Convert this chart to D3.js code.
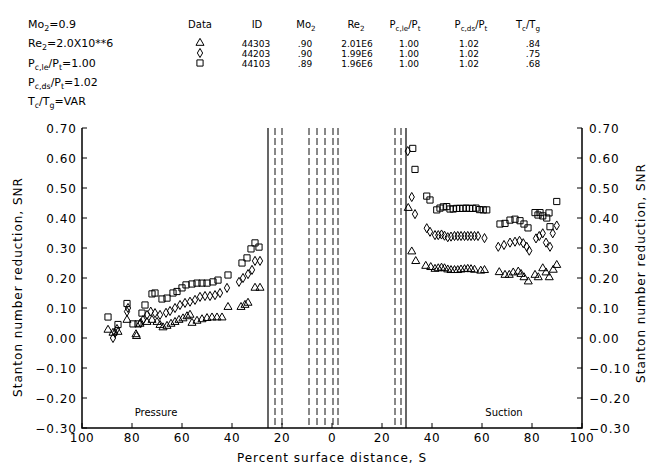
<!DOCTYPE html>
<html lang="en">
<head>
<meta charset="utf-8">
<script src="https://d3js.org/d3.v7.min.js"></script>
<style>
  body { margin: 0; background: #fff; }
  svg { font-family: "DejaVu Sans", sans-serif; fill: #000; }
  .axis-line { stroke: #000; stroke-width: 1.5; fill: none; }
  .tick-line { stroke: #000; stroke-width: 1; }
  .ytick { font-size: 12px; letter-spacing: 1px; }
  .xtick { font-size: 12px; letter-spacing: 0.5px; }
  .title { font-size: 12px; letter-spacing: 1px; }
  .gap-solid { stroke: #000; stroke-width: 1.2; }
  .gap-dash { stroke: #111; stroke-width: 1; stroke-dasharray: 7,3; }
  .mark { fill: none; stroke: #000; stroke-width: 1; }
</style>
</head>
<body>
<svg id="chart" width="653" height="475"></svg>
<script>
// ---- data ----
var paramLines = [
  [["Mo"], ["2", "sub"], ["=0.9"]],
  [["Re"], ["2", "sub"], ["=2.0X10**6"]],
  [["P"], ["c,le", "sub"], ["/P"], ["t", "sub"], ["=1.00"]],
  [["P"], ["c,ds", "sub"], ["/P"], ["t", "sub"], ["=1.02"]],
  [["T"], ["c", "sub"], ["/T"], ["g", "sub"], ["=VAR"]]
];

var tableHead = [
  [["Data"]], [["ID"]], [["Mo"], ["2", "sub"]], [["Re"], ["2", "sub"]],
  [["P"], ["c,le", "sub"], ["/P"], ["t", "sub"]],
  [["P"], ["c,ds", "sub"], ["/P"], ["t", "sub"]],
  [["T"], ["c", "sub"], ["/T"], ["g", "sub"]]
];
var runSymbols = ["triangle", "diamond", "square"];
var runIds = ["44303", "44203", "44103"];
var runMo = [".90", ".90", ".89"];
var runRe = ["2.01E6", "1.99E6", "1.96E6"];
var runPle = ["1.00", "1.00", "1.00"];
var runPds = ["1.02", "1.02", "1.02"];
var runTr = [".84", ".75", ".68"];

var yTicks = [-0.3, -0.2, -0.1, 0, 0.1, 0.2, 0.3, 0.4, 0.5, 0.6, 0.7];
var xTicks = [-100, -80, -60, -40, -20, 0, 20, 40, 60, 80, 100];

// film hole rows near the leading edge (signed S, pressure side negative)
var solidLines = [-25.6, 29.6];
var dashedLines = [-22.8, -20, -9.2, -6, -2.8, 0.4, 2.4, 25.2, 27.6];

// pressure side: [S, SNR]
var pressTri = [[89.6,0.027],[87.6,0.017],[85.6,0.02],[82,0.06],[78.4,0.012],[78.2,0.006],
  [76.8,0.047],[74,0.053],[72,0.06],[70,0.053],[68.8,0.043],[67.6,0.035],[66,0.04],[64.4,0.047],
  [62.8,0.053],[61.2,0.06],[59.6,0.065],[58,0.072],[56.8,0.077],[56,0.05],[54,0.057],[52,0.062],
  [50,0.066],[48,0.068],[46,0.068],[44,0.068],[41.6,0.103],[36.4,0.103],[34.8,0.11],[33.6,0.117],
  [30.8,0.167],[28.8,0.167]];
var pressDia = [[87.6,0.0],[86.8,0.017],[86,0.03],[82,0.088],[81.6,0.1],[76.5,0.05],[75.6,0.06],
  [74,0.077],[72.5,0.088],[70.8,0.083],[68.8,0.077],[66.4,0.084],[64.8,0.09],[62.8,0.1],[60.8,0.11],
  [58.8,0.117],[56.8,0.121],[54.8,0.127],[52.8,0.137],[50.8,0.14],[48.8,0.14],[46.8,0.143],
  [44.8,0.15],[42,0.167],[37.2,0.187],[35.6,0.2],[33.6,0.213],[32,0.227],[30.8,0.257],[28.8,0.257]];
var pressSq = [[89.6,0.07],[85.6,0.045],[82,0.115],[79.6,0.047],[77.6,0.047],[76,0.083],[74.8,0.11],
  [72,0.147],[70.8,0.15],[68,0.13],[66,0.133],[63.6,0.15],[62,0.155],[60,0.167],[58.4,0.177],
  [56,0.18],[54,0.183],[52,0.183],[50,0.183],[47.6,0.187],[45.6,0.193],[41.6,0.21],[36,0.25],
  [34,0.267],[32.4,0.297],[30.8,0.317],[29.2,0.303]];

// suction side: [S, SNR]
var suctTri = [[30.5,0.433],[31.9,0.288],[33.5,0.256],[37.5,0.24],[39.5,0.236],[41.2,0.23],
  [42.5,0.232],[43.8,0.234],[45,0.232],[46.3,0.228],[47.6,0.226],[49,0.226],[50.3,0.226],
  [51.6,0.228],[53,0.229],[54.3,0.23],[55.6,0.229],[57,0.227],[59.5,0.224],[61,0.226],
  [66.9,0.219],[69.2,0.21],[70.9,0.21],[72.5,0.218],[74.5,0.221],[75.6,0.213],[76.8,0.202],
  [78.5,0.188],[81.2,0.21],[82.5,0.202],[84.3,0.232],[85.6,0.218],[86.9,0.202],[88.5,0.227],
  [89.9,0.243]];
var suctDia = [[30.3,0.623],[31.9,0.47],[33.2,0.413],[37.9,0.366],[39.2,0.354],[41.2,0.343],
  [42.5,0.343],[43.8,0.345],[45,0.341],[46.3,0.336],[47.6,0.338],[49,0.34],[50.3,0.34],
  [51.6,0.34],[53,0.34],[54.3,0.34],[55.6,0.34],[57,0.34],[58.4,0.34],[61,0.333],
  [66.5,0.304],[68.8,0.31],[71.2,0.318],[73.2,0.321],[75,0.324],[76.5,0.316],[77.9,0.304],
  [78.9,0.291],[81.6,0.332],[82.9,0.34],[84.3,0.349],[85.6,0.318],[87.2,0.304],[88.3,0.349],
  [89.9,0.375]];
var suctSq = [[32.3,0.632],[33.2,0.562],[37.9,0.473],[39.2,0.46],[41.9,0.427],[43.2,0.433],
  [44.5,0.437],[45.9,0.438],[47.2,0.43],[48.5,0.43],[49.8,0.432],[51.1,0.432],[52.4,0.432],
  [53.7,0.433],[55,0.432],[56.3,0.432],[57.6,0.433],[59,0.428],[60.5,0.427],[61.9,0.427],
  [67.2,0.38],[69.2,0.382],[71.2,0.393],[73.2,0.396],[75.2,0.391],[76.8,0.38],[78.4,0.367],
  [81.2,0.418],[82.4,0.41],[83.2,0.418],[84.3,0.407],[85.9,0.4],[86.8,0.417],[87.2,0.371],
  [89.9,0.455]];

// ---- drawing ----
var svg = d3.select("#chart");
var plotL = 82, plotR = 582, plotT = 128, plotB = 428;

var x = d3.scaleLinear().domain([-100, 100]).range([plotL, plotR]);
var y = d3.scaleLinear().domain([-0.3, 0.7]).range([plotB, plotT]);

var symbolTypes = {
  triangle: d3.symbol().type(d3.symbolTriangle).size(28),
  diamond: d3.symbol().type(d3.symbolDiamond).size(24),
  square: d3.symbol().type(d3.symbolSquare).size(38)
};

function richText(sel, parts) {
  parts.forEach(function(p, i) {
    var t = sel.append("tspan").text(p[0]);
    if (p[1] === "sub") t.attr("dy", 3).style("font-size", "0.72em");
    else if (i > 0) t.attr("dy", -3);
  });
}

// parameter block
paramLines.forEach(function(parts, i) {
  var t = svg.append("text").attr("x", 28).attr("y", 28 + i * 19.3).style("font-size", "11px");
  richText(t, parts);
});

// run table
var colX = [200, 257, 306, 356, 405, 471, 528];
tableHead.forEach(function(parts, i) {
  var t = svg.append("text").attr("x", colX[i]).attr("y", 28)
    .attr("text-anchor", "middle").style("font-size", "10px");
  richText(t, parts);
});
var cols = [runIds, runMo, runRe, runPle, runPds, runTr];
var valX = [256, 305, 357, 409, 469, 533];
runSymbols.forEach(function(s, r) {
  var ry = 43 + r * 10;
  svg.append("path").attr("class", "mark")
    .attr("transform", "translate(" + colX[0] + "," + ry + ")")
    .attr("d", symbolTypes[s]());
  cols.forEach(function(c, i) {
    svg.append("text").attr("x", valX[i]).attr("y", ry + 3.5)
      .attr("text-anchor", "middle").style("font-size", "9px").text(c[r]);
  });
});

// gap lines
svg.selectAll(".gap-solid").data(solidLines).enter().append("line")
  .attr("class", "gap-solid")
  .attr("x1", function(d) { return x(d); }).attr("x2", function(d) { return x(d); })
  .attr("y1", y(0.7)).attr("y2", y(-0.3));
svg.selectAll(".gap-dash").data(dashedLines).enter().append("line")
  .attr("class", "gap-dash")
  .attr("x1", function(d) { return x(d); }).attr("x2", function(d) { return x(d); })
  .attr("y1", y(0.7)).attr("y2", y(-0.3));

// axes lines (left, bottom, right; no top frame)
svg.append("path").attr("class", "axis-line")
  .attr("d", "M" + plotL + "," + plotT + "V" + plotB + "H" + plotR + "V" + plotT);

// y ticks, both sides, pointing inward
yTicks.forEach(function(v) {
  svg.append("line").attr("class", "tick-line")
    .attr("x1", plotL).attr("x2", plotL + 5).attr("y1", y(v)).attr("y2", y(v));
  svg.append("line").attr("class", "tick-line")
    .attr("x1", plotR).attr("x2", plotR - 5).attr("y1", y(v)).attr("y2", y(v));
  var lab = (v < 0 ? "\u2212" : "") + Math.abs(v).toFixed(2);
  svg.append("text").attr("class", "ytick").attr("x", plotL - 5).attr("y", y(v) + 4.5)
    .attr("text-anchor", "end").text(lab);
  svg.append("text").attr("class", "ytick").attr("x", plotR + 7).attr("y", y(v) + 4.5)
    .text(lab);
});

// x ticks
xTicks.forEach(function(v) {
  svg.append("line").attr("class", "tick-line")
    .attr("x1", x(v)).attr("x2", x(v)).attr("y1", plotB).attr("y2", plotB - 5);
  svg.append("text").attr("class", "xtick").attr("x", x(v)).attr("y", 442)
    .attr("text-anchor", "middle").text(Math.abs(v));
});

// titles
svg.append("text").attr("class", "title").attr("text-anchor", "middle")
  .attr("x", 332).attr("y", 462).text("Percent surface distance, S");
svg.append("text").attr("class", "title").attr("text-anchor", "middle")
  .attr("transform", "translate(22,287) rotate(-90)").text("Stanton number reduction, SNR");
svg.append("text").attr("class", "title").attr("text-anchor", "middle")
  .attr("transform", "translate(645,273) rotate(-90)").text("Stanton number reduction, SNR");

svg.append("text").attr("x", 156).attr("y", 416).attr("text-anchor", "middle")
  .style("font-size", "10px").text("Pressure");
svg.append("text").attr("x", 504).attr("y", 416).attr("text-anchor", "middle")
  .style("font-size", "10px").text("Suction");

// data marks
function plot(data, side, sym) {
  svg.append("g").selectAll("path").data(data).enter().append("path")
    .attr("class", "mark")
    .attr("transform", function(d) {
      return "translate(" + x(side * d[0]) + "," + y(d[1]) + ")";
    })
    .attr("d", symbolTypes[sym]());
}
plot(pressTri, -1, "triangle");
plot(pressDia, -1, "diamond");
plot(pressSq, -1, "square");
plot(suctTri, 1, "triangle");
plot(suctDia, 1, "diamond");
plot(suctSq, 1, "square");
</script>
</body>
</html>
